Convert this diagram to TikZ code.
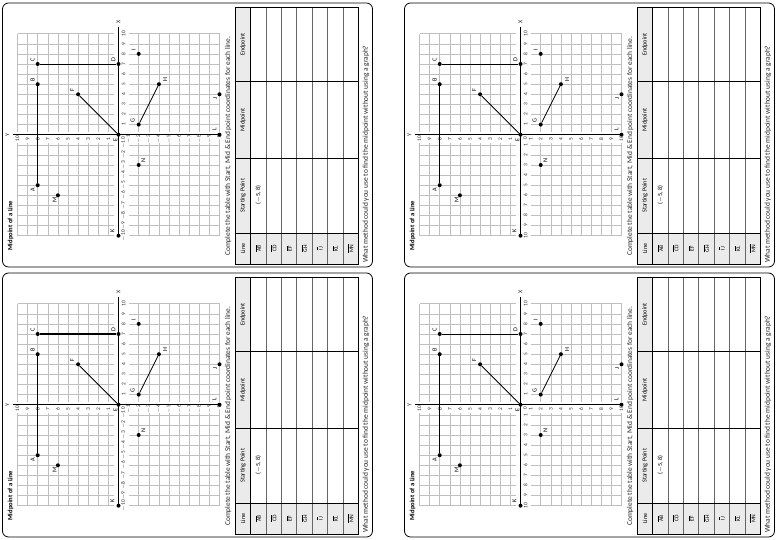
\documentclass[tikz,border=0pt]{standalone}
\usepackage{fontspec}
\setmainfont{Carlito}
\newcommand{\mpcard}[4]{%
  \draw[cardbox] (0,0) rectangle (264,370);
  \node[titletxt, anchor=west] (#1title) at (16,362) {Midpoint of a Line};
  \begin{scope}[shift={(132.3,254)}, x=10.1pt, y=10.1pt]
    \foreach \k in {-10,...,10}{
      \draw[gridln] (\k,-10) -- (\k,10);
      \draw[gridln] (-10,\k) -- (10,\k);
    }
    \fill[white] (-10.3,-1.0) rectangle (10.3,0.47);
    \fill[white] (-0.8,-10.3) rectangle (0.3,10.3);
    \draw[axisln] (-10,0) -- (10.7,0);
    \draw[axisln] (0,-10) -- (0,10.4);
    \node[axlbl] (#1X) at (11.15,0) {X};
    \node[axlbl] (#1Y) at (0,11) {Y};
    \foreach \k in {1,...,10}{
      \node[ticklbl] (#1xp\k) at (\k,-0.5) {\k};
      \node[ticklbl] (#1xn\k) at (-\k,-0.5) {#4\k};
      \node[ticklbl] (#1yp\k) at (-0.42,\k) {\k};
      \node[ticklbl] (#1yn\k) at (-0.42,-\k) {#4\k};
    }
    \node[ticklbl] (#1zero) at (-0.33,-0.45) {0};
    \foreach \nm/\xx/\yy/\ddx/\ddy in {A/-5/8/-4.7/5, B/5/8/4/5, C/7/8/4.3/5, D/7/0/4.7/5,
        E/0/0/-5.3/3, F/4/4/4.7/6, G/1/-2/4.3/6, H/5/-4/4.7/-6.3, I/8/-2/4/5,
        J/4/-10/-4.7/4.3, K/-10/0/4.7/6, L/0/-10/5.3/5, M/-6/6/-5/3.3, N/-3/-2/4.7/-4.7}{
      \node[dot] (#1\nm) at (\xx,\yy) {};
      \node[ptlbl, xshift=\ddx pt, yshift=\ddy pt] (#1\nm-l) at (\xx,\yy) {\nm};
    }
    \draw[seg=#2] (#1A) -- (#1B);
    \draw[seg=#3] (#1C) -- (#1D);
    \draw[seg=0.8pt] (#1E) -- (#1F);
    \draw[seg=0.8pt] (#1G) -- (#1H);
  \end{scope}
  \node[bodytxt, anchor=west] (#1instr) at (11,144.3)
    {Complete the table with Start, Mid \& End point coordinates for each line.};
  \fill[hdrfill] (3,122) rectangle (259.7,137);
  \fill[hdrfill] (3,14.2) rectangle (33.7,122);
  \foreach \vv in {106.6,91.2,75.8,60.4,45,29.6} \draw[rowln] (3,\vv) -- (259.7,\vv);
  \draw[colln] (3,122) -- (259.7,122);
  \foreach \uu in {33.7,108.7,185.3} \draw[colln] (\uu,14.2) -- (\uu,137);
  \draw[tabframe] (3,14.2) rectangle (259.7,137);
  \node[hdrtxt] (#1hline) at (18.35,129.5) {Line};
  \node[hdrtxt] (#1hstart) at (71.2,129.5) {Starting Point};
  \node[hdrtxt] (#1hmid) at (147,129.5) {Midpoint};
  \node[hdrtxt] (#1hend) at (222.5,129.5) {Endpoint};
  \foreach \lab/\vv in {AB/114.3, CD/98.9, EF/83.5, GH/68.1, IJ/52.7, KL/37.3, MN/21.9}{
    \node[linetxt] (#1row\lab) at (18.35,\vv) {$\overline{\mbox{\lab}}$};
  }
  \node[hdrtxt] (#1start) at (72,114.3) {($-$5, 8)};
  \node[bodytxt, anchor=west] (#1quest) at (4,6.6)
    {What method could you use to find the midpoint without using a graph?};
}
\begin{document}
\begin{tikzpicture}[x=1pt,y=1pt,
  cardbox/.style={draw=black, line width=0.8pt, rounded corners=6pt},
  gridln/.style={draw=black!25, line width=0.45pt},
  axisln/.style={draw=black, line width=1.2pt},
  axlbl/.style={font=\fontsize{6}{7}\selectfont, inner sep=0pt, text=black!85},
  ticklbl/.style={font=\fontsize{5.4}{6}\selectfont, inner sep=0pt, text=black!85},
  dot/.style={circle, fill=black, inner sep=0pt, minimum size=4pt},
  ptlbl/.style={font=\fontsize{6.2}{7}\selectfont, inner sep=0pt},
  seg/.style={draw=black, line width=#1},
  titletxt/.style={font=\bfseries\fontsize{6.6}{7}\selectfont, inner sep=0pt},
  bodytxt/.style={font=\fontsize{7.4}{8}\selectfont, inner sep=0pt, text=black!85},
  hdrtxt/.style={font=\fontsize{6.2}{7}\selectfont, inner sep=0pt},
  linetxt/.style={font=\fontsize{5.6}{6}\selectfont, inner sep=0pt},
  hdrfill/.style={fill=black!8},
  rowln/.style={draw=black!60, line width=0.5pt},
  colln/.style={draw=black, line width=0.6pt},
  tabframe/.style={draw=black, line width=0.7pt}
]
\useasboundingbox[fill=white] (0,0) rectangle (780,540);
\begin{scope}[shift={(372.5,273)}, rotate=90, transform shape]
  \mpcard{a}{0.8pt}{0.8pt}{$-$}
\end{scope}
\begin{scope}[shift={(372.5,3)}, rotate=90, transform shape]
  \mpcard{b}{0.8pt}{1.3pt}{$-$}
\end{scope}
\begin{scope}[shift={(774.5,273)}, rotate=90, transform shape]
  \mpcard{c}{1.2pt}{0.8pt}{}
\end{scope}
\begin{scope}[shift={(774.5,3)}, rotate=90, transform shape]
  \mpcard{d}{1.2pt}{0.8pt}{}
\end{scope}
\end{tikzpicture}
\end{document}
